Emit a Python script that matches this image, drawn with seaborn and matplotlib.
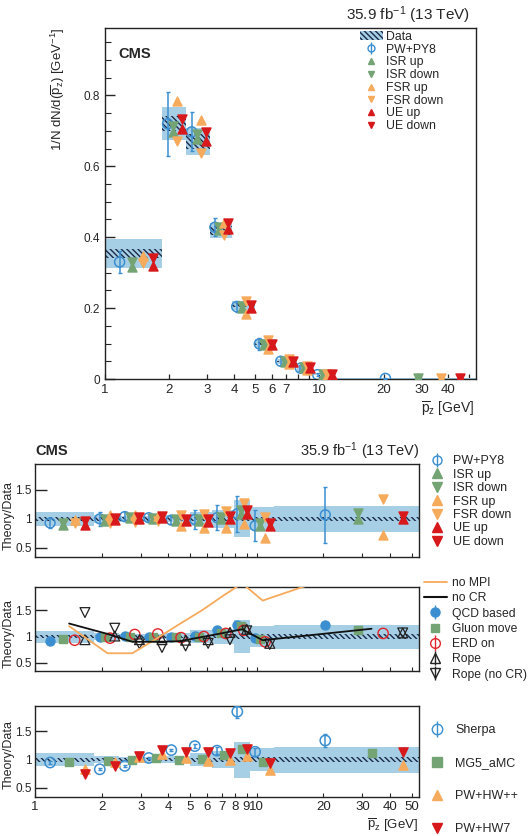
import numpy as np
import matplotlib
matplotlib.use("Agg")
import matplotlib.pyplot as plt
import seaborn as sns
from matplotlib.lines import Line2D
from matplotlib.patches import Patch
from matplotlib.ticker import NullLocator, MultipleLocator

# ---------------- data ----------------
bin_edges = [1.0, 1.85, 2.4, 3.1, 3.9, 5.0, 6.3, 7.9, 9.3, 12.0, 54.0]
data_val = [0.355, 0.72, 0.67, 0.42, 0.208, 0.100, 0.049, 0.028, 0.014, 0.0015]
data_tot = [0.115, 0.065, 0.055, 0.05, 0.06, 0.12, 0.15, 0.32, 0.20, 0.23]   # relative total unc.
data_stat = [0.035, 0.03, 0.03, 0.03, 0.03, 0.035, 0.035, 0.04, 0.04, 0.04]  # relative stat unc.

# top panel (absolute)
py8_top = [0.330, 0.720, 0.697, 0.428, 0.204, 0.099, 0.050, 0.0305, 0.0123, 0.0016]
py8_top_err = [0.031, 0.09, 0.055, 0.025, 0.015, 0.017, 0.011, 0.009, 0.004, 0.0007]
isr_up_top = [0.316, 0.698, 0.677, 0.420, 0.200, 0.096, 0.049, 0.030, 0.0123, 0.0015]
isr_dn_top = [0.330, 0.713, 0.690, 0.428, 0.206, 0.099, 0.051, 0.0325, 0.0130, 0.00165]
fsr_up_top = [0.348, 0.785, 0.730, 0.441, 0.183, 0.085, 0.042, 0.0255, 0.0094, 0.0011]
fsr_dn_top = [0.327, 0.670, 0.637, 0.407, 0.220, 0.109, 0.056, 0.036, 0.0144, 0.0020]
ue_up_top = [0.320, 0.706, 0.670, 0.424, 0.200, 0.095, 0.0485, 0.0305, 0.0122, 0.0015]
ue_dn_top = [0.341, 0.734, 0.697, 0.441, 0.208, 0.099, 0.0515, 0.0325, 0.0130, 0.00158]

# ratio panel 1
py8_r = [0.93, 1.00, 1.04, 1.02, 0.98, 0.99, 1.02, 1.09, 0.88, 1.07]
py8_r_err = [0.09, 0.12, 0.08, 0.06, 0.07, 0.17, 0.22, 0.31, 0.27, 0.48]
isr_up_r = [0.89, 0.97, 1.01, 1.00, 0.96, 0.96, 1.00, 1.08, 0.88, 0.99]
isr_dn_r = [0.93, 0.99, 1.03, 1.02, 0.99, 0.99, 1.04, 1.16, 0.93, 1.10]
fsr_up_r = [0.98, 1.07, 1.06, 1.05, 0.88, 0.85, 0.85, 0.91, 0.67, 0.72]
fsr_dn_r = [0.92, 0.93, 0.95, 0.97, 1.06, 1.09, 1.14, 1.28, 1.03, 1.34]
ue_up_r = [0.90, 0.98, 1.00, 1.01, 0.96, 0.95, 0.99, 1.09, 0.87, 0.99]
ue_dn_r = [0.96, 1.02, 1.04, 1.05, 1.00, 0.99, 1.05, 1.16, 0.93, 1.05]

# ratio panel 2
no_mpi = [1.20, 0.68, 0.68, 0.95, 1.23, 1.50, 1.79, 2.02, 1.69, 2.40]
no_cr = [1.25, 1.05, 0.90, 0.90, 0.91, 0.99, 1.07, 1.14, 0.93, 1.15]
qcd_based = [0.91, 1.00, 1.01, 1.00, 1.00, 1.01, 1.12, 1.22, 0.98, 1.23]
gluon_move = [0.95, 1.00, 1.00, 1.00, 1.00, 1.00, 1.07, 1.20, 0.95, 1.12]
erd_on = [0.93, 0.97, 1.04, 1.05, 0.98, 1.00, 1.06, 1.12, 0.90, 1.06]
rope = [0.94, 1.01, 0.94, 0.94, 0.93, 0.94, 1.08, 1.14, 0.87, 1.07]
rope_nocr = [1.46, 1.16, 0.86, 0.79, 0.82, 0.87, 0.94, 1.11, 0.85, 1.07]

# ratio panel 3
sherpa = [0.95, 0.83, 0.89, 1.03, 1.17, 1.24, 1.16, 1.85, 1.14, 1.34]
sherpa_err = [0.02, 0.02, 0.02, 0.02, 0.02, 0.03, 0.06, 0.12, 0.07, 0.12]
mg5 = [0.96, 0.98, 1.00, 1.03, 0.99, 1.01, 1.08, 1.19, 0.96, 1.11]
pw_hwpp = [0.83, 0.96, 1.04, 1.10, 1.03, 0.98, 0.99, 1.07, 0.81, 0.90]
pw_hw7 = [0.75, 0.89, 1.07, 1.17, 1.14, 1.13, 1.12, 1.19, 0.94, 1.14]

x_ticks = [1, 2, 3, 4, 5, 6, 7, 8, 9, 10, 20, 30, 40, 50]
x_labels_top = ["1", "2", "3", "4", "5", "6", "7", "", "", "10", "20", "30", "40", ""]
x_labels_bottom = ["1", "2", "3", "4", "5", "6", "7", "8", "9", "10", "20", "30", "40", "50"]

# ---------------- style ----------------
sns.set_theme(style="ticks")
plt.rcParams["font.family"] = ["Liberation Sans", "DejaVu Sans"]
plt.rcParams.update({
    "mathtext.fontset": "custom",
    "mathtext.rm": "Liberation Sans",
    "mathtext.it": "Liberation Sans:italic",
    "mathtext.bf": "Liberation Sans:bold",
    "hatch.linewidth": 1.0,
    "axes.linewidth": 1.0,
    "axes.edgecolor": "#222222",
})

band_c = "#a6cfe6"
hatch_c = "#1b2a48"
c_py8 = "#3b8ed0"
c_isr = "#74a474"
c_fsr = "#f6aa5c"
c_ue = "#d7191c"
c_erd = "#e0262a"
c_black = "#222222"
HATCH = "\\" * 6

W, H = 528, 836
fig = plt.figure(figsize=(W / 100, H / 100), dpi=100)


def box(x0, y0, x1, y1):
    return [x0 / W, 1 - y1 / H, (x1 - x0) / W, (y1 - y0) / H]


ax0 = fig.add_axes(box(105, 28, 476, 379))
ax1 = fig.add_axes(box(35, 464, 419, 557))
ax2 = fig.add_axes(box(35, 587, 419, 671))
ax3 = fig.add_axes(box(35, 706, 419, 797))

lo = np.array(bin_edges[:-1])
hi = np.array(bin_edges[1:])
wid = hi - lo


def xpos(f):
    return lo + f * wid


centers = xpos(0.5)
dv = np.array(data_val)
tot = np.array(data_tot)
stat = np.array(data_stat)


def pts(ax, x, y, marker, color, s=40, filled=True, lw=1.0, z=4):
    sns.scatterplot(x=np.asarray(x, float), y=np.asarray(y, float), ax=ax, marker=marker,
                    color=color, s=s, facecolor=(color if filled else "none"),
                    edgecolor=color, linewidth=lw, legend=False, zorder=z)


def data_band(ax, center, rel_tot, rel_stat):
    ax.bar(lo, 2 * center * rel_tot, bottom=center * (1 - rel_tot), width=wid, align="edge",
           color=band_c, linewidth=0, zorder=1)
    ax.bar(lo, 2 * center * rel_stat, bottom=center * (1 - rel_stat), width=wid, align="edge",
           facecolor="none", edgecolor=hatch_c, hatch=HATCH, linewidth=0, zorder=2)


for ax in (ax0, ax1, ax2, ax3):
    ax.set_xscale("log")
    ax.set_xlim(1, 54)
    ax.set_xticks(x_ticks)
    ax.xaxis.set_minor_locator(NullLocator())
    for sp in ax.spines.values():
        sp.set_visible(True)
        sp.set_color("#222222")
        sp.set_linewidth(1.0)

# ---------------- top panel ----------------
data_band(ax0, dv, tot, stat)
ax0.errorbar(xpos(0.2), py8_top, yerr=py8_top_err, fmt="none", ecolor=c_py8, elinewidth=1.1,
             capsize=1.5, zorder=3)
pts(ax0, xpos(0.2), py8_top, "o", c_py8, s=52, filled=False, lw=1.1)
pts(ax0, xpos(0.4), isr_up_top, "^", c_isr, s=42)
pts(ax0, xpos(0.4), isr_dn_top, "v", c_isr, s=42)
pts(ax0, xpos(0.6), fsr_up_top, "^", c_fsr, s=42)
pts(ax0, xpos(0.6), fsr_dn_top, "v", c_fsr, s=42)
pts(ax0, xpos(0.8), ue_up_top, "^", c_ue, s=42)
pts(ax0, xpos(0.8), ue_dn_top, "v", c_ue, s=42)

ax0.set_ylim(0, 0.99)
ax0.set_yticks([0, 0.2, 0.4, 0.6, 0.8], ["0", "0.2", "0.4", "0.6", "0.8"])
ax0.yaxis.set_minor_locator(MultipleLocator(0.05))
ax0.set_xticklabels(x_labels_top)
ax0.tick_params(axis="y", which="major", direction="in", length=7.5, width=1, labelsize=8.5, pad=3.5,
                right=False, left=True)
ax0.tick_params(axis="y", which="minor", direction="in", length=4, width=0.8, right=False)
ax0.tick_params(axis="x", which="major", direction="in", length=3.6, width=0.9, labelsize=9.5,
                pad=3.5, top=False)
ax0.set_ylabel(r"1/N dN/d($\overline{\mathrm{p}}_{\mathrm{z}}$) [GeV$^{\mathrm{-1}}$]",
               fontsize=9.5, loc="top")
ax0.yaxis.set_label_coords(-0.103, 1.0)
ax0.set_xlabel("")
fig.text(474 / W, 1 - 409 / H, r"$\overline{\mathrm{p}}_{\mathrm{z}}$ [GeV]", ha="right",
         va="center", fontsize=10)
fig.text(470 / W, 1 - 15 / H, r"35.9 fb$^{\mathrm{-1}}$ (13 TeV)", ha="right", va="center",
         fontsize=11)
fig.text(118 / W, 1 - 54 / H, "CMS", ha="left", va="center", fontsize=10.5, fontweight="bold")


def bar_handle(color, marker, filled=False, ms=6):
    return (Line2D([], [], marker=marker, ls="none", mfc=(color if filled else "none"), mec=color,
                   ms=ms, mew=1.0),
            Line2D([], [], marker="|", ls="none", color=color, ms=ms * 1.6, mew=1.0))


def mk(color, marker, ms=6):
    return Line2D([], [], marker=marker, ls="none", color=color, ms=ms)


data_h = Patch(facecolor=band_c, edgecolor=hatch_c, hatch=HATCH, linewidth=0)
h_top = [data_h, bar_handle(c_py8, "o", ms=5), mk(c_isr, "^", 5), mk(c_isr, "v", 5),
         mk(c_fsr, "^", 5), mk(c_fsr, "v", 5), mk(c_ue, "^", 5), mk(c_ue, "v", 5)]
l_top = ["Data", "PW+PY8", "ISR up", "ISR down", "FSR up", "FSR down", "UE up", "UE down"]
fig.legend(h_top, l_top, loc="upper left", bbox_to_anchor=(360 / W, 1 - 31 / H), frameon=False,
           borderaxespad=0, borderpad=0, handlelength=1.85, handleheight=0.7, handletextpad=0.3,
           labelspacing=0.06, fontsize=8.8)

# ---------------- ratio panels common ----------------
ones = np.ones(len(dv))
for ax in (ax1, ax2, ax3):
    data_band(ax, ones, tot, stat)
    ax.set_ylim(0.34, 1.95)
    ax.set_yticks([0.5, 1.0, 1.5], ["0.5", "1", "1.5"])
    ax.yaxis.set_minor_locator(NullLocator())
    ax.tick_params(axis="y", which="major", direction="in", length=8.5, width=1, labelsize=8.5,
                   pad=2.5, right=False)
    ax.tick_params(axis="x", which="major", direction="in", length=3, width=0.8, labelsize=9.5,
                   pad=3, top=False)
    ax.set_ylabel("Theory/Data", fontsize=9)
    ax.set_xlabel("")
ax1.yaxis.set_label_coords(-0.052, 0.45)
ax2.yaxis.set_label_coords(-0.052, 0.45)
ax3.yaxis.set_label_coords(-0.052, 0.47)
ax1.set_xticklabels([""] * len(x_ticks))
ax2.set_xticklabels([""] * len(x_ticks))
ax3.set_xticklabels(x_labels_bottom)

# ---------------- ratio panel 1 ----------------
ax1.errorbar(xpos(0.2), py8_r, yerr=py8_r_err, fmt="none", ecolor=c_py8, elinewidth=1.1,
             capsize=1.5, zorder=3)
pts(ax1, xpos(0.2), py8_r, "o", c_py8, s=50, filled=False, lw=1.1)
pts(ax1, xpos(0.4), isr_up_r, "^", c_isr, s=42)
pts(ax1, xpos(0.4), isr_dn_r, "v", c_isr, s=42)
pts(ax1, xpos(0.6), fsr_up_r, "^", c_fsr, s=42)
pts(ax1, xpos(0.6), fsr_dn_r, "v", c_fsr, s=42)
pts(ax1, xpos(0.8), ue_up_r, "^", c_ue, s=42)
pts(ax1, xpos(0.8), ue_dn_r, "v", c_ue, s=42)
fig.text(35 / W, 1 - 451 / H, "CMS", ha="left", va="center", fontsize=10.5, fontweight="bold")
fig.text(419 / W, 1 - 451 / H, r"35.9 fb$^{\mathrm{-1}}$ (13 TeV)", ha="right", va="center",
         fontsize=10.5)
h1 = [bar_handle(c_py8, "o", ms=6.5), mk(c_isr, "^", 6.5), mk(c_isr, "v", 6.5),
      mk(c_fsr, "^", 6.5), mk(c_fsr, "v", 6.5), mk(c_ue, "^", 6.5), mk(c_ue, "v", 6.5)]
l1 = ["PW+PY8", "ISR up", "ISR down", "FSR up", "FSR down", "UE up", "UE down"]
fig.legend(h1, l1, loc="upper left", bbox_to_anchor=(428 / W, 1 - 455 / H), frameon=False,
           borderaxespad=0, borderpad=0, handlelength=1.4, handletextpad=0.6,
           labelspacing=0.12, fontsize=9)

# ---------------- ratio panel 2 ----------------
sns.lineplot(x=centers, y=no_mpi, ax=ax2, color=c_fsr, linewidth=1.3, legend=False, zorder=5)
sns.lineplot(x=centers, y=no_cr, ax=ax2, color="#111111", linewidth=1.3, legend=False, zorder=5)
pts(ax2, xpos(0.2), qcd_based, "o", c_py8, s=42)
pts(ax2, xpos(0.4), gluon_move, "s", c_isr, s=36)
pts(ax2, xpos(0.6), erd_on, "o", c_erd, s=55, filled=False, lw=1.0)
pts(ax2, xpos(0.8), rope, "^", c_black, s=50, filled=False, lw=0.9)
pts(ax2, xpos(0.8), rope_nocr, "v", c_black, s=50, filled=False, lw=0.9)
h2 = [Line2D([], [], color=c_fsr, lw=1.3), Line2D([], [], color="#111111", lw=1.5),
      bar_handle(c_py8, "o", filled=True, ms=6.5), mk(c_isr, "s", 6),
      bar_handle(c_erd, "o", ms=7), bar_handle(c_black, "^", ms=6.5),
      bar_handle(c_black, "v", ms=6.5)]
l2 = ["no MPI", "no CR", "QCD based", "Gluon move", "ERD on", "Rope", "Rope (no CR)"]
fig.legend(h2, l2, loc="upper left", bbox_to_anchor=(424 / W, 1 - 577 / H), frameon=False,
           borderaxespad=0, borderpad=0, handlelength=1.9, handletextpad=0.45,
           labelspacing=0.27, fontsize=8.7)

# ---------------- ratio panel 3 ----------------
ax3.errorbar(xpos(0.2), sherpa, yerr=sherpa_err, fmt="none", ecolor=c_py8, elinewidth=1.1,
             capsize=1.5, zorder=3)
pts(ax3, xpos(0.2), sherpa, "o", c_py8, s=55, filled=False, lw=1.1)
pts(ax3, xpos(0.5), mg5, "s", c_isr, s=40)
pts(ax3, xpos(0.8), pw_hwpp, "^", c_fsr, s=44)
pts(ax3, xpos(0.8), pw_hw7, "v", c_ue, s=44)
h3 = [bar_handle(c_py8, "o", ms=7.5), mk(c_isr, "s", 7), mk(c_fsr, "^", 7.5), mk(c_ue, "v", 7.5)]
l3 = ["Sherpa", "MG5_aMC", "PW+HW++", "PW+HW7"]
fig.legend(h3, l3, loc="upper left", bbox_to_anchor=(425 / W, 1 - 724 / H), frameon=False,
           borderaxespad=0, borderpad=0, handlelength=1.85, handletextpad=0.55,
           labelspacing=1.68, fontsize=9)
fig.text(418 / W, 1 - 825 / H, r"$\overline{\mathrm{p}}_{\mathrm{z}}$ [GeV]", ha="right",
         va="center", fontsize=9.5)

fig.savefig("out.png", dpi=100)
